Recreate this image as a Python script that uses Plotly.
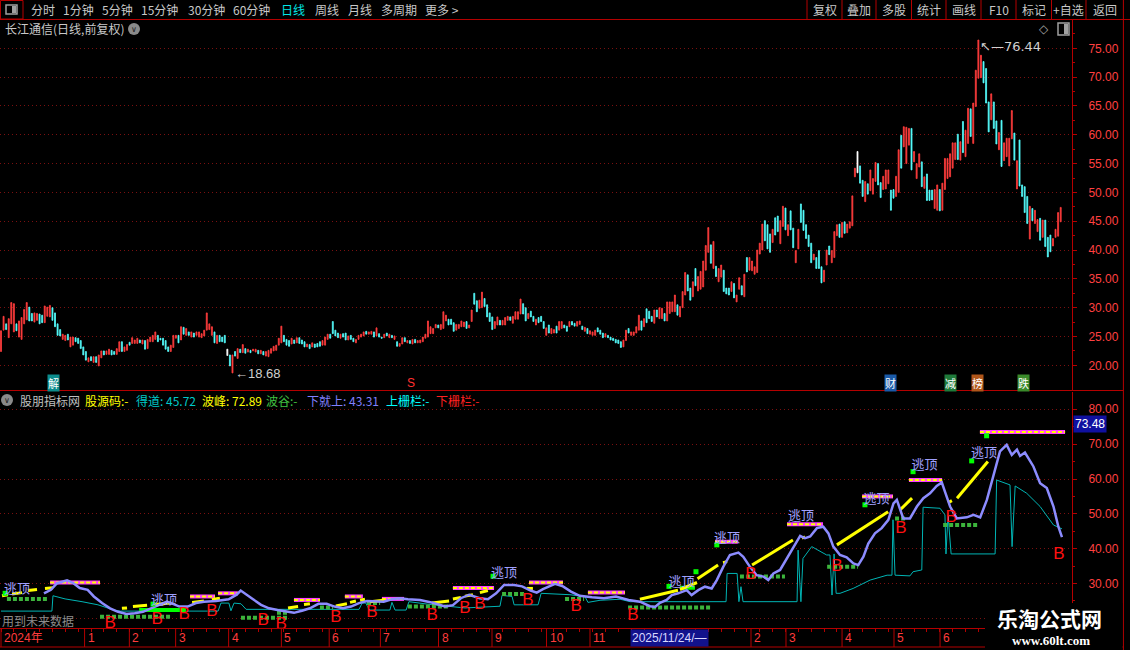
import plotly.graph_objects as go

W, H = 1130, 650
RIGHT = 1072                      # px where the chart area ends (price axis)
CJK = "Noto Sans CJK SC"
NUM = "Liberation Sans"
RED_LINE = "#b40000"
GRID = "#7a1010"

# ---------------- daily candles (trading-day index 0..412) ----------------
high = [
    26.0, 28.5, 27.2, 28.1, 30.9, 30.7, 27.2, 27.7, 28.3, 29.7,
    30.9, 30.1, 29.0, 29.1, 29.0, 28.9, 28.7, 30.3, 30.1, 30.4,
    30.0, 29.1, 27.2, 26.2, 25.4, 25.2, 25.4, 24.9, 24.9, 24.8,
    24.7, 24.3, 23.2, 22.4, 21.3, 21.5, 21.5, 21.5, 21.8, 22.5,
    22.5, 22.5, 22.8, 22.6, 22.4, 22.9, 24.1, 24.1, 23.2, 23.6,
    24.0, 24.8, 24.4, 24.7, 24.4, 24.4, 24.3, 24.5, 24.9, 25.2,
    25.8, 25.2, 24.7, 24.7, 24.3, 23.2, 23.5, 25.2, 25.2, 25.2,
    26.7, 26.6, 26.4, 25.8, 25.8, 25.6, 25.8, 25.8, 25.5, 26.1,
    29.1, 27.2, 26.7, 25.8, 25.2, 25.2, 24.9, 25.2, 22.8, 21.8,
    21.8, 22.4, 22.9, 22.8, 23.6, 22.9, 22.8, 22.6, 22.8, 22.8,
    22.6, 22.6, 22.4, 22.4, 22.6, 22.9, 23.3, 23.5, 24.7, 26.8,
    25.2, 24.5, 24.3, 24.7, 24.4, 24.8, 24.8, 24.4, 24.1, 23.7,
    23.6, 23.9, 23.7, 23.8, 24.1, 24.3, 24.9, 25.4, 25.4, 27.6,
    26.1, 25.6, 25.4, 25.5, 25.6, 25.1, 25.2, 24.7, 24.5, 25.2,
    25.4, 25.8, 25.9, 25.8, 25.9, 25.8, 26.5, 25.5, 24.9, 25.4,
    25.6, 25.4, 25.2, 25.1, 24.1, 23.8, 24.8, 24.8, 24.3, 24.3,
    24.5, 24.5, 24.3, 24.4, 24.9, 25.4, 27.7, 26.7, 26.4, 27.1,
    27.0, 27.1, 29.3, 28.7, 28.0, 28.0, 27.4, 27.1, 27.1, 27.7,
    27.5, 27.6, 27.0, 29.6, 32.5, 31.2, 31.3, 32.7, 31.6, 30.5,
    29.1, 28.4, 27.6, 28.4, 27.8, 27.8, 28.3, 28.5, 28.4, 28.5,
    29.3, 29.3, 31.5, 30.7, 30.0, 29.0, 29.4, 28.5, 28.0, 28.3,
    28.5, 27.6, 26.5, 27.0, 26.4, 26.2, 26.8, 27.6, 27.6, 27.0,
    26.8, 27.6, 27.6, 27.3, 27.6, 27.7, 26.8, 26.6, 26.4, 26.0,
    25.8, 26.1, 26.5, 26.1, 25.6, 25.5, 25.2, 24.9, 24.7, 24.5,
    24.4, 24.1, 24.4, 26.1, 26.4, 25.8, 25.8, 26.7, 28.7, 27.7,
    28.1, 29.8, 29.4, 28.5, 29.6, 29.6, 30.0, 29.9, 29.0, 31.0,
    31.0, 31.0, 32.2, 30.5, 30.2, 32.8, 36.1, 35.7, 33.4, 34.5,
    36.8, 35.4, 36.3, 38.1, 40.8, 43.9, 40.9, 41.5, 37.2, 36.8,
    37.4, 36.5, 33.4, 33.4, 34.5, 34.2, 32.2, 35.2, 33.8, 35.8,
    38.7, 38.7, 38.1, 37.1, 40.0, 41.2, 44.5, 45.1, 44.4, 42.8,
    43.6, 45.6, 45.9, 45.1, 47.6, 47.3, 44.4, 46.8, 43.8, 39.9,
    43.6, 48.0, 46.9, 44.4, 42.6, 41.2, 39.3, 38.7, 39.9, 37.1,
    36.5, 40.0, 40.7, 39.9, 43.2, 44.4, 44.5, 44.8, 44.9, 44.5,
    44.9, 49.4, 54.2, 57.1, 54.6, 52.1, 51.9, 51.5, 53.9, 52.4,
    55.2, 55.0, 51.7, 52.8, 53.9, 53.9, 50.4, 50.5, 52.8, 57.4,
    59.9, 61.4, 61.3, 61.1, 61.1, 57.1, 55.0, 56.7, 55.3, 52.7,
    53.2, 50.4, 50.4, 50.5, 51.3, 50.5, 51.6, 55.9, 55.9, 56.7,
    58.6, 58.6, 60.1, 58.8, 62.3, 60.8, 64.6, 64.5, 65.5, 71.2,
    76.44, 73.8, 72.7, 71.5, 65.7, 67.1, 65.7, 62.4, 60.4, 62.5,
    58.6, 59.4, 59.4, 64.2, 60.3, 55.5, 59.1, 51.3, 51.0, 49.3,
    47.6, 47.2, 46.9, 45.3, 45.5, 45.2, 45.2, 42.2, 42.6, 42.0,
    43.6, 46.5, 47.4,
]
low = [
    22.4, 26.1, 26.2, 24.8, 27.2, 25.8, 26.0, 24.9, 24.5, 27.2,
    27.9, 27.7, 27.7, 27.5, 27.8, 27.2, 27.4, 27.4, 28.5, 28.4,
    27.8, 26.7, 25.2, 25.1, 24.5, 24.3, 24.4, 23.2, 23.5, 24.1,
    23.8, 22.9, 21.8, 20.9, 20.6, 20.8, 20.5, 20.5, 19.9, 21.3,
    21.8, 21.9, 21.9, 21.8, 21.9, 21.9, 22.4, 22.4, 22.4, 22.6,
    23.5, 23.8, 23.8, 23.8, 23.9, 23.7, 22.8, 22.9, 24.1, 24.1,
    24.5, 24.1, 24.4, 23.5, 22.8, 22.4, 22.4, 23.1, 24.7, 23.9,
    24.4, 25.4, 25.2, 25.2, 24.9, 24.9, 25.2, 24.9, 24.8, 25.1,
    26.1, 26.2, 25.2, 23.9, 23.8, 24.1, 24.1, 23.9, 21.7, 19.9,
    18.68, 21.6, 21.2, 22.2, 22.2, 22.1, 22.3, 22.2, 22.5, 22.3,
    22.0, 22.0, 21.8, 21.6, 21.5, 22.1, 22.5, 22.6, 23.5, 23.9,
    24.1, 23.5, 23.3, 23.7, 23.8, 23.9, 23.8, 23.7, 23.2, 23.2,
    22.9, 23.2, 23.1, 23.2, 23.3, 23.5, 23.5, 24.5, 24.7, 25.5,
    25.1, 24.8, 24.7, 24.9, 24.4, 24.4, 24.5, 24.1, 23.9, 24.5,
    24.9, 25.1, 25.4, 25.4, 25.4, 24.9, 25.1, 24.9, 24.7, 24.8,
    25.1, 24.8, 24.8, 24.5, 23.3, 23.3, 23.7, 24.1, 23.9, 23.8,
    23.7, 23.9, 23.9, 23.9, 24.1, 24.7, 24.9, 25.5, 25.5, 26.5,
    26.5, 26.2, 26.4, 27.7, 27.0, 27.1, 25.9, 26.1, 26.4, 26.7,
    26.7, 26.4, 26.5, 27.6, 30.6, 29.3, 29.9, 30.0, 30.2, 28.4,
    27.6, 26.2, 26.4, 27.0, 27.0, 27.0, 27.0, 27.8, 27.8, 27.3,
    28.0, 28.0, 28.9, 28.9, 27.7, 28.1, 28.4, 27.6, 27.0, 27.4,
    27.6, 26.4, 25.2, 25.6, 25.5, 25.6, 25.6, 26.1, 26.4, 26.5,
    25.9, 26.7, 27.0, 26.8, 26.8, 27.1, 26.2, 25.9, 25.5, 25.4,
    25.2, 25.2, 25.8, 25.4, 24.8, 24.9, 24.8, 24.4, 24.3, 23.9,
    23.8, 23.1, 23.2, 24.3, 25.6, 25.2, 25.2, 25.6, 26.1, 26.1,
    26.7, 27.4, 28.1, 27.6, 27.3, 28.4, 28.1, 28.1, 27.7, 27.7,
    29.0, 29.3, 29.3, 28.7, 28.4, 30.0, 32.2, 32.9, 31.3, 31.9,
    33.8, 32.9, 33.2, 33.6, 36.5, 39.6, 37.7, 36.8, 35.4, 34.5,
    35.3, 32.8, 32.4, 32.2, 32.8, 31.7, 31.0, 33.2, 32.2, 31.9,
    36.2, 36.5, 36.4, 35.8, 36.1, 39.3, 40.0, 41.6, 40.2, 39.6,
    41.3, 42.6, 43.2, 41.1, 44.1, 43.5, 42.5, 43.5, 40.4, 37.8,
    40.2, 44.8, 43.4, 42.0, 40.6, 37.8, 38.3, 36.8, 36.8, 34.3,
    34.5, 37.4, 39.2, 37.8, 38.7, 42.5, 42.2, 42.2, 42.9, 43.0,
    43.8, 44.2, 52.7, 53.4, 51.6, 49.3, 48.4, 49.7, 50.3, 49.7,
    51.9, 51.3, 49.1, 50.5, 50.6, 51.5, 46.9, 49.0, 49.3, 50.0,
    54.2, 57.9, 55.0, 58.2, 53.9, 55.3, 52.4, 54.4, 51.0, 50.7,
    48.6, 48.6, 48.7, 47.2, 46.9, 46.8, 46.9, 50.5, 52.4, 52.7,
    54.2, 55.7, 55.7, 55.6, 56.9, 56.2, 58.5, 59.7, 58.5, 64.9,
    69.8, 69.9, 69.0, 65.5, 60.5, 62.6, 61.1, 58.4, 57.4, 54.5,
    55.5, 56.2, 54.6, 59.3, 55.6, 50.6, 51.1, 49.3, 46.5, 44.6,
    41.9, 45.1, 44.6, 43.2, 41.7, 42.2, 40.6, 38.8, 39.7, 40.7,
    42.2, 42.4, 44.9,
]
# r = up day (red), c = down day (cyan), w = flat (white)
trend = (
    "rrcrrrcrrr" "rccrrccrrr" "ccccrrcrrc" "ccccrcrcrr" "crrccrrcrr"
    "crrrcrcrrr" "rcccccrrrc" "rcrcrcrrrr" "rrrcrcccwc" "rcrcrcrcrr"
    "crcrrrrrrr" "cccrcrcccr" "crcccrrrcc" "ccrccrccrr" "rrcrrcrccr"
    "crcrcrrcrc" "rcrrrrrrrr" "crrrcccrrr" "rcrrccrrcc" "ccrrcrrrcr"
    "rrrccrccrc" "ccrcrrcrrc" "crccrrcrcr" "rrcccrcccc" "ccrrcrrrrc"
    "rcccrcrrcr" "rrrcrrrccr" "crrrrrcrcr" "rcccrcrrcr" "crrrrrrccc"
    "rccrrcrccr" "rcccccrccc" "rrcrrrcrcr" "rrrwccrcrr" "rccrrrccrr"
    "crrrcrrrcr" "cccrrcrrrr" "rrcrcrrcrr" "rrcccrccrc" "rrrrcrcccc"
    "rcrrcrcccr" "rrr"
)
low_mark = (90, 18.68)
high_mark = (380, 76.44)

# ---------------- indicator panel ----------------
# 下就上 (lavender)
xjs_x = [16.7, 19.4, 21.8, 25.7, 28.2, 30.6, 33.7, 36.1, 39.3, 42.4,
         45.5, 48.8, 52.0, 55.2, 58.3, 61.4, 64.5, 66.1, 69.4, 72.6,
         75.8, 78.9, 83.6, 88.5, 91.6, 93.2, 94.9, 98.0, 101.1, 104.2,
         107.5, 110.7, 113.9, 117.0, 120.1, 123.4, 126.6, 129.7, 132.9, 136.1,
         139.2, 142.3, 145.6, 148.8, 151.9, 155.1, 158.2, 162.9, 167.8, 172.6,
         175.7, 178.8, 182.0, 186.1, 189.3, 192.5, 195.6, 199.5, 202.6, 205.9,
         208.3, 210.7, 215.4, 218.5, 221.6, 225.0, 229.8, 234.4, 239.1, 244.0,
         248.4, 252.3, 254.3, 256.2, 258.8, 260.8, 263.3, 266.6, 268.5, 271.1,
         273.7, 276.3, 278.3, 280.8, 283.4, 286.7, 288.6, 291.2, 293.8, 296.4,
         298.3, 300.3, 302.9, 305.5, 308.0, 310.7, 312.6, 314.6, 317.2, 319.7,
         321.7, 323.6, 326.2, 328.8, 331.4, 333.3, 335.3, 337.2, 339.8, 342.4,
         345.0, 347.0, 348.3, 349.6, 350.8, 353.4, 356.1, 358.6, 361.2, 363.8,
         365.8, 367.0, 369.0, 371.6, 375.5, 378.1, 380.7, 383.3, 385.9, 388.4,
         391.0, 393.0, 395.0, 396.2, 398.1, 401.4, 404.0, 406.6, 409.2, 411.1,
         412.5]
xjs_v = [27.2, 28.2, 30.1, 30.9, 30.1, 28.7, 28.2, 26.3, 24.4, 22.9,
         21.9, 21.3, 21.5, 21.9, 22.9, 23.9, 24.8, 24.4, 23.4, 23.4,
         24.4, 24.8, 25.0, 25.5, 26.8, 28.0, 27.2, 25.5, 23.9, 22.9,
         22.4, 21.9, 21.6, 22.2, 22.9, 24.2, 24.2, 23.4, 22.9, 23.4,
         24.4, 25.0, 24.8, 24.8, 25.5, 25.8, 25.5, 25.3, 24.5, 23.4,
         23.8, 25.8, 26.8, 25.8, 25.5, 27.2, 29.6, 29.6, 29.2, 28.0,
         27.4, 28.4, 29.9, 29.2, 27.7, 26.5, 26.1, 25.8, 26.3, 25.3,
         24.8, 23.5, 23.3, 24.5, 25.3, 26.7, 27.2, 28.1, 26.7, 28.1,
         29.1, 28.6, 31.0, 34.8, 38.2, 38.9, 37.7, 34.8, 32.4, 32.0,
         31.0, 32.9, 33.9, 37.2, 40.6, 43.7, 43.0, 43.5, 45.9, 46.3,
         44.4, 40.6, 38.2, 37.5, 35.8, 35.3, 37.7, 41.5, 44.4, 45.9,
         48.3, 53.0, 54.0, 51.1, 48.7, 48.7, 52.1, 54.5, 55.9, 58.0,
         59.0, 56.4, 52.1, 48.7, 49.0, 49.7, 49.0, 54.0, 60.7, 67.9,
         69.8, 66.9, 68.4, 66.6, 67.6, 63.6, 58.8, 57.4, 52.1, 46.3,
         43.3]

# 得道 (cyan)
dd_x = [0, 19.8, 20.2, 24.9, 31.5, 37.7, 43.9, 46.3, 84.4, 85.5,
        88.6, 89.4, 90.6, 93.3, 95.3, 139.2, 140.4, 141.9, 143.1, 151.2,
        152.0, 153.2, 157.5, 158.6, 166.8, 180.4, 194.0, 194.8, 198.7, 199.5,
        208.8, 210.0, 221.2, 227.1, 228.2, 232.9, 240.7, 244.6, 281.9, 282.3,
        286.2, 286.9, 287.7, 288.5, 309.5, 309.9, 311.0, 311.8, 315.2, 321.0,
        322.3, 323.1, 323.9, 324.7, 326.2, 331.3, 337.9, 344.5, 346.4, 346.8,
        347.6, 353.4, 354.6, 358.0, 358.5, 365.1, 367.0, 367.4, 368.2, 369.4,
        386.5, 387.1, 392.3, 393.1, 394.3, 398.8, 404.0, 409.2, 412.5]
dd_v = [22.1, 22.1, 26.5, 25.6, 24.8, 23.9, 22.4, 22.1, 22.1, 24.4,
        24.4, 22.2, 24.4, 24.2, 22.6, 22.6, 24.4, 24.4, 22.4, 22.4,
        24.6, 22.4, 22.4, 24.8, 24.0, 23.0, 23.5, 26.6, 26.3, 23.9,
        23.9, 27.2, 26.8, 26.2, 24.6, 25.2, 25.5, 24.8, 24.8, 32.9,
        32.9, 24.8, 29.1, 24.8, 24.8, 39.6, 24.8, 37.2, 40.6, 38.2,
        38.2, 26.7, 38.5, 27.2, 27.2, 28.6, 31.0, 32.4, 32.4, 48.3,
        32.4, 32.2, 33.4, 33.9, 51.9, 51.6, 49.7, 38.5, 49.7, 38.5,
        38.5, 59.7, 58.3, 40.6, 58.0, 55.9, 52.1, 46.8, 45.7]

# 波峰 (yellow rising pieces)
bf_x0 = [0.4, 4.3, 10.5, 17.1, 47.0, 51.3, 59.9, 74.3, 82.0, 111.6,
         117.8, 130.2, 135.7, 139.6, 143.5, 167.6, 175.7, 180.4, 186.2, 204.5,
         248.4, 264.0, 270.8, 280.7, 292.0, 311.4, 325.0, 349.5, 368.2, 371.7]
bf_x1 = [2.7, 8.2, 14.0, 20.2, 49.0, 56.8, 66.1, 78.9, 85.1, 115.5,
         120.1, 134.5, 138.0, 141.5, 148.9, 174.2, 178.8, 183.5, 189.3, 206.8,
         263.2, 270.6, 278.8, 282.3, 307.9, 312.6, 344.9, 354.2, 369.7, 383.7]
bf_v0 = [26.5, 27.0, 28.0, 28.6, 22.9, 23.4, 24.0, 24.6, 25.4, 23.0,
         24.0, 23.6, 24.6, 25.2, 24.8, 24.4, 25.6, 26.4, 27.4, 28.6,
         25.5, 28.3, 31.4, 36.0, 35.3, 43.0, 41.1, 51.1, 53.2, 54.5]
bf_v1 = [26.8, 27.4, 28.3, 28.8, 23.0, 23.8, 24.4, 25.0, 25.8, 23.4,
         24.2, 24.2, 25.0, 25.5, 25.2, 25.0, 26.0, 26.8, 28.0, 28.6,
         28.1, 30.3, 35.3, 36.3, 42.5, 43.4, 50.6, 54.5, 53.8, 65.0]

# 栅栏 (yellow over magenta levels)
fence_x0 = [19.1, 73.5, 84.4, 113.9, 133.7, 148.1, 175.7, 205.3, 228.2, 277.6,
            305.6, 334.8, 353.0, 380.6]
fence_x1 = [38.5, 83.2, 92.1, 124.0, 140.7, 156.7, 191.7, 218.5, 242.6, 286.5,
            319.6, 346.8, 365.9, 413.7]
fence_v = [30.3, 26.3, 27.2, 25.3, 26.3, 25.6, 28.7, 30.3, 27.4, 42.0,
           47.0, 55.0, 59.7, 73.48]

# 波谷 (green dotted levels)
bg_x0 = [2.3, 38.5, 93.3, 107.3, 124.0, 142.3, 158.2, 194.8, 219.3, 243.8,
         287.3, 321.2, 347.6, 366.3]
bg_x1 = [18.3, 66.1, 111.6, 111.6, 129.1, 147.4, 174.2, 204.1, 226.7, 276.4,
         304.8, 333.2, 352.2, 379.9]
bg_v = [25.6, 20.5, 20.2, 21.6, 23.1, 24.4, 23.4, 27.0, 25.6, 23.1,
        32.0, 34.8, 48.7, 46.8]

# bright green bars
lg_x0 = [53.7, 264.0]
lg_x1 = [71.9, 269.8]
lg_v = [22.4, 28.8]

# small green dots
gd_x = [1.6, 59.1, 191.3, 259.7, 270.2, 278.3, 335.9, 354.6, 377.4, 383.2]
gd_v = [27.2, 24.1, 32.1, 29.2, 33.4, 41.1, 52.6, 62.1, 65.2, 72.4]

# 逃顶 labels
tao_x = [6.2, 63.4, 195.6, 264.6, 282.3, 311.0, 340.4, 359.1, 382.2]
tao_v = [28.1, 25.0, 32.9, 30.3, 42.8, 49.1, 54.0, 63.7, 67.3]

# B labels
b_x = [42.4, 60.7, 71.2, 82.0, 101.9, 108.9, 130.2, 144.2, 167.6, 180.4,
       186.2, 204.9, 223.6, 245.7, 291.6, 325.0, 349.9, 369.4, 411.3]
b_v = [18.5, 19.5, 21.0, 21.8, 19.3, 18.1, 20.3, 21.7, 20.7, 22.8,
       23.8, 25.0, 23.3, 20.7, 32.5, 34.7, 45.7, 48.8, 38.2]

# time axis
month_idx = [0, 32.5, 49.9, 67.9, 88.5, 109.0, 127.6, 147.5, 170.1, 190.9,
             212.1, 229.0, 291.6, 305.2, 327.0, 347.2, 365.1]
month_txt = ["2024年", "1", "2", "3", "4", "5", "6", "7", "8", "9",
             "10", "11", "2", "3", "4", "5", "6"]
cursor_idx = 244.6
cursor_txt = "2025/11/24/—"

# event tags under the candles
tag_idx = [20.4, 345.8, 369.2, 379.7, 397.4]
tag_txt = ["解", "财", "减", "榜", "跌"]
tag_bg = ["#0c8c8c", "#1a5aa8", "#1f7a3a", "#b0561a", "#3a8a2a"]
s_idx = 159.4

# header readings
header = [("股朋指标网", "#c0c0c0"), ("股源码:-", "#ffff00"), ("得道: 45.72", "#00c8c8"),
          ("波峰: 72.89", "#ffff00"), ("波谷:-", "#40c040"), ("下就上: 43.31", "#8080ff"),
          ("上栅栏:-", "#00ffff"), ("下栅栏:-", "#ff2020")]
header_px = [18, 83, 134, 200, 264, 305, 384, 434]

toolbar_left = ["分时", "1分钟", "5分钟", "15分钟", "30分钟", "60分钟", "日线", "周线", "月线", "多周期", "更多 >"]
toolbar_left_px = [28.6, 60.7, 100, 139, 186, 231, 278.6, 312.5, 345.7, 378.6, 423]
toolbar_right = ["复权", "叠加", "多股", "统计", "画线", "F10", "标记", "+自选", "返回"]
toolbar_sep_px = [807, 842, 876, 911.5, 946, 981, 1016, 1051.5, 1086, 1123.4]


def px(x):
    return x / W


def py(y):
    return 1 - y / H


def segs(x0, x1, v0, v1):
    xs, ys = [], []
    for a, b, c, d in zip(x0, x1, v0, v1):
        xs += [a, b, None]
        ys += [c, d, None]
    return xs, ys


fig = go.Figure()

# candles
opens = [h if t == "c" else l for h, l, t in zip(high, low, trend)]
closes = [l if t == "c" else h for h, l, t in zip(high, low, trend)]
col = [i for i, t in enumerate(trend) if t != "w"]
wht = [i for i, t in enumerate(trend) if t == "w"]

fig.add_trace(go.Candlestick(
    x=col, open=[opens[i] for i in col], high=[high[i] for i in col],
    low=[low[i] for i in col], close=[closes[i] for i in col],
    increasing=dict(line=dict(color="#ff3c3c", width=0.8), fillcolor="#ff3c3c"),
    decreasing=dict(line=dict(color="#54fcfc", width=0.8), fillcolor="#54fcfc"),
    whiskerwidth=0, hoverinfo="skip", showlegend=False))
fig.add_trace(go.Candlestick(
    x=wht, open=[opens[i] for i in wht], high=[high[i] for i in wht],
    low=[low[i] for i in wht], close=[closes[i] for i in wht],
    increasing=dict(line=dict(color="#ffffff", width=0.8), fillcolor="#ffffff"),
    decreasing=dict(line=dict(color="#ffffff", width=0.8), fillcolor="#ffffff"),
    whiskerwidth=0, hoverinfo="skip", showlegend=False))

# indicator
ind = dict(xaxis="x2", yaxis="y2", hoverinfo="skip", showlegend=False)
fig.add_trace(go.Scatter(x=dd_x, y=dd_v, mode="lines",
                         line=dict(color="#00b4b4", width=1), **ind))
gx, gy = segs(bg_x0, bg_x1, bg_v, bg_v)
fig.add_trace(go.Scatter(x=gx, y=gy, mode="lines",
                         line=dict(color="#3cb43c", width=4, dash="4px,2px"), **ind))
lx, ly = segs(lg_x0, lg_x1, lg_v, lg_v)
fig.add_trace(go.Scatter(x=lx, y=ly, mode="lines",
                         line=dict(color="#00ff00", width=4), **ind))
fx, fy = segs(fence_x0, fence_x1, fence_v, fence_v)
fig.add_trace(go.Scatter(x=fx, y=fy, mode="lines",
                         line=dict(color="#ff40ff", width=4), **ind))
fig.add_trace(go.Scatter(x=fx, y=fy, mode="lines",
                         line=dict(color="#ffff00", width=2, dash="4px,2px"), **ind))
yx, yy = segs(bf_x0, bf_x1, bf_v0, bf_v1)
fig.add_trace(go.Scatter(x=yx, y=yy, mode="lines",
                         line=dict(color="#ffff00", width=3), **ind))
fig.add_trace(go.Scatter(x=xjs_x, y=xjs_v, mode="lines",
                         line=dict(color="#8c8cff", width=2.5), **ind))
fig.add_trace(go.Scatter(x=gd_x, y=gd_v, mode="markers",
                         marker=dict(symbol="square", size=5, color="#00ff00"), **ind))
fig.add_trace(go.Scatter(x=tao_x, y=tao_v, mode="text", text=["逃顶"] * len(tao_x),
                         textfont=dict(color="#a0a0ff", size=13, family=CJK),
                         cliponaxis=False, **ind))
fig.add_trace(go.Scatter(x=b_x, y=b_v, mode="text", text=["B"] * len(b_x),
                         textfont=dict(color="#ff1010", size=17, family=NUM),
                         cliponaxis=False, **ind))

# axes
ytick_main = list(range(20, 80, 5))
ytick_ind = list(range(20, 90, 10))
axis_common = dict(side="right", ticks="outside", ticklen=4, tickcolor=RED_LINE,
                   showline=True, linecolor=RED_LINE, linewidth=1, zeroline=False,
                   showgrid=True, gridcolor=GRID, griddash="1px,3px", gridwidth=1,
                   tickfont=dict(color="#ff4040", size=12, family=NUM),
                   ticklabelstandoff=9, fixedrange=True)
fig.update_layout(
    width=W, height=H, margin=dict(l=0, r=0, t=0, b=0),
    paper_bgcolor="black", plot_bgcolor="black", showlegend=False, boxgap=0.45,
    xaxis=dict(domain=[0, px(RIGHT)], range=[-0.39, 416.4], anchor="y",
               visible=False, rangeslider=dict(visible=False), fixedrange=True),
    yaxis=dict(domain=[py(390), py(20)], range=[15.72, 79.91], anchor="x",
               tickvals=ytick_main, ticktext=[f"{v:.2f}" for v in ytick_main],
               minor=dict(tickvals=[v + 2.5 for v in ytick_main], ticks="outside",
                          ticklen=2, tickcolor=RED_LINE, showgrid=False),
               **axis_common),
    xaxis2=dict(domain=[0, px(RIGHT)], range=[-0.39, 416.4], anchor="y2",
                showticklabels=False, ticks="outside", tickvals=list(range(0, 416, 5)),
                ticklen=3, tickcolor=RED_LINE, showgrid=False, zeroline=False,
                showline=True, linecolor=RED_LINE, fixedrange=True),
    yaxis2=dict(domain=[py(628), py(392)], range=[17.25, 84.96], anchor="x2",
                tickvals=ytick_ind, ticktext=["" if v < 30 else f"{v:.2f}" for v in ytick_ind],
                minor=dict(tickvals=[v + 5 for v in ytick_ind], ticks="outside",
                           ticklen=2, tickcolor=RED_LINE, showgrid=False),
                **axis_common),
)

shapes = []
ann = []


def hline(y, x0, x1, color=RED_LINE):
    shapes.append(dict(type="line", xref="paper", yref="paper", x0=px(x0), x1=px(x1),
                       y0=py(y), y1=py(y), line=dict(color=color, width=1), layer="above"))


def vline(x, y0, y1, color=RED_LINE):
    shapes.append(dict(type="line", xref="paper", yref="paper", x0=px(x), x1=px(x),
                       y0=py(y0), y1=py(y1), line=dict(color=color, width=1), layer="above"))


def text(t, x, y, color="#c8c8c8", size=12, family=CJK, xanchor="left", **kw):
    ann.append(dict(text=t, x=px(x), y=py(y), xref="paper", yref="paper",
                    xanchor=xanchor, yanchor="middle", showarrow=False,
                    font=dict(color=color, size=size, family=family), **kw))


# toolbar
hline(19.5, 0, W)
shapes.append(dict(type="rect", xref="paper", yref="paper", x0=px(0.5), x1=px(23),
                   y0=py(19), y1=py(0.5), line=dict(color=RED_LINE, width=1)))
shapes.append(dict(type="rect", xref="paper", yref="paper", x0=px(6), x1=px(17),
                   y0=py(14), y1=py(5), line=dict(color="#a0a0a0", width=1.5)))
shapes.append(dict(type="rect", xref="paper", yref="paper", x0=px(12), x1=px(16),
                   y0=py(13), y1=py(6), fillcolor="#a0a0a0", line=dict(width=0)))
for t, x in zip(toolbar_left, toolbar_left_px):
    text(t, x, 10, color="#00e6e6" if t == "日线" else "#c8c8c8")
for s in toolbar_sep_px:
    vline(s, 0, 19)
for t, a, b in zip(toolbar_right, toolbar_sep_px[:-1], toolbar_sep_px[1:]):
    text(t, (a + b) / 2, 10, xanchor="center")

# title row
text("长江通信(日线,前复权)", 3, 29)
shapes.append(dict(type="circle", xref="paper", yref="paper", x0=px(128), x1=px(140),
                   y0=py(35), y1=py(23), fillcolor="#8a8a8a", line=dict(width=0)))
text("∨", 134, 29.5, color="#202020", size=8, family="DejaVu Sans", xanchor="center")
text("◇", 1044, 29, color="#a0a0a0", size=12, family="DejaVu Sans", xanchor="center")
shapes.append(dict(type="rect", xref="paper", yref="paper", x0=px(1058), x1=px(1069),
                   y0=py(35), y1=py(23), line=dict(color="#a0a0a0", width=1.5)))
shapes.append(dict(type="rect", xref="paper", yref="paper", x0=px(1064), x1=px(1068),
                   y0=py(34), y1=py(24), fillcolor="#a0a0a0", line=dict(width=0)))

# price marks
ann.append(dict(text="←18.68", x=low_mark[0], y=low_mark[1], xref="x", yref="y",
                xanchor="left", yanchor="middle", showarrow=False, xshift=1, yshift=-1,
                font=dict(color="#d0d0d0", size=13, family=NUM)))
ann.append(dict(text="↖—76.44", x=high_mark[0], y=high_mark[1], xref="x", yref="y",
                xanchor="left", yanchor="middle", showarrow=False, xshift=0, yshift=-6,
                font=dict(color="#d0d0d0", size=13, family="DejaVu Sans")))

# event tags
for i, t, bg in zip(tag_idx, tag_txt, tag_bg):
    ann.append(dict(text=t, x=i, y=py(383), xref="x", yref="paper", showarrow=False,
                    xanchor="center", yanchor="middle", bgcolor=bg, borderpad=0,
                    font=dict(color="#ffffff", size=11, family=CJK)))
ann.append(dict(text="S", x=s_idx, y=py(383), xref="x", yref="paper", showarrow=False,
                xanchor="center", yanchor="middle",
                font=dict(color="#ff3030", size=12, family=NUM)))

# panel separators
hline(390.5, 0, 1123.4)
vline(1123.4, 19, H)

# indicator header
shapes.append(dict(type="circle", xref="paper", yref="paper", x0=px(1), x1=px(13),
                   y0=py(406), y1=py(394), fillcolor="#8a8a8a", line=dict(width=0)))
text("∨", 7, 400.5, color="#202020", size=8, family="DejaVu Sans", xanchor="center")
for (t, c), x in zip(header, header_px):
    text(t, x, 400, color=c)
text("用到未来数据", 0, 620, color="#8c8c8c")
ann.append(dict(text=f"{fence_v[-1]:.2f}", x=px(RIGHT + 1), y=py(424), xref="paper",
                yref="paper", xanchor="left", yanchor="middle", showarrow=False,
                bgcolor="#1010a0", borderpad=1,
                font=dict(color="#ffffff", size=12, family=NUM)))

# time axis band
hline(647, 0, 1123.4)
for i, t in zip(month_idx, month_txt):
    shapes.append(dict(type="line", xref="x2", yref="paper", x0=i, x1=i,
                       y0=py(647), y1=py(629), line=dict(color=RED_LINE, width=1)))
    ann.append(dict(text=t, x=i, y=py(638), xref="x2", yref="paper", showarrow=False,
                    xanchor="left", yanchor="middle", xshift=1,
                    font=dict(color="#ff3c3c", size=12, family=f"{NUM}, {CJK}")))
ann.append(dict(text=cursor_txt, x=cursor_idx, y=py(638), xref="x2", yref="paper",
                showarrow=False, xanchor="left", yanchor="middle", bgcolor="#12128c",
                borderpad=1, font=dict(color="#d8d8ff", size=12, family=NUM)))

# watermark
shapes.append(dict(type="rect", xref="paper", yref="paper", x0=px(985), x1=px(1122.5),
                   y0=0, y1=py(603), fillcolor="black", line=dict(width=0), layer="above"))
text("<b>乐淘公式网</b>", 1049, 618, color="#ffffff", size=21, xanchor="center")
text("<b>www.60lt.com</b>", 1051, 640, color="#ffffff", size=13,
     family="Liberation Serif", xanchor="center")

fig.update_layout(shapes=shapes, annotations=ann)
fig.write_html("out.html", config={"displayModeBar": False},
               post_script="document.body.style.margin='0';")
